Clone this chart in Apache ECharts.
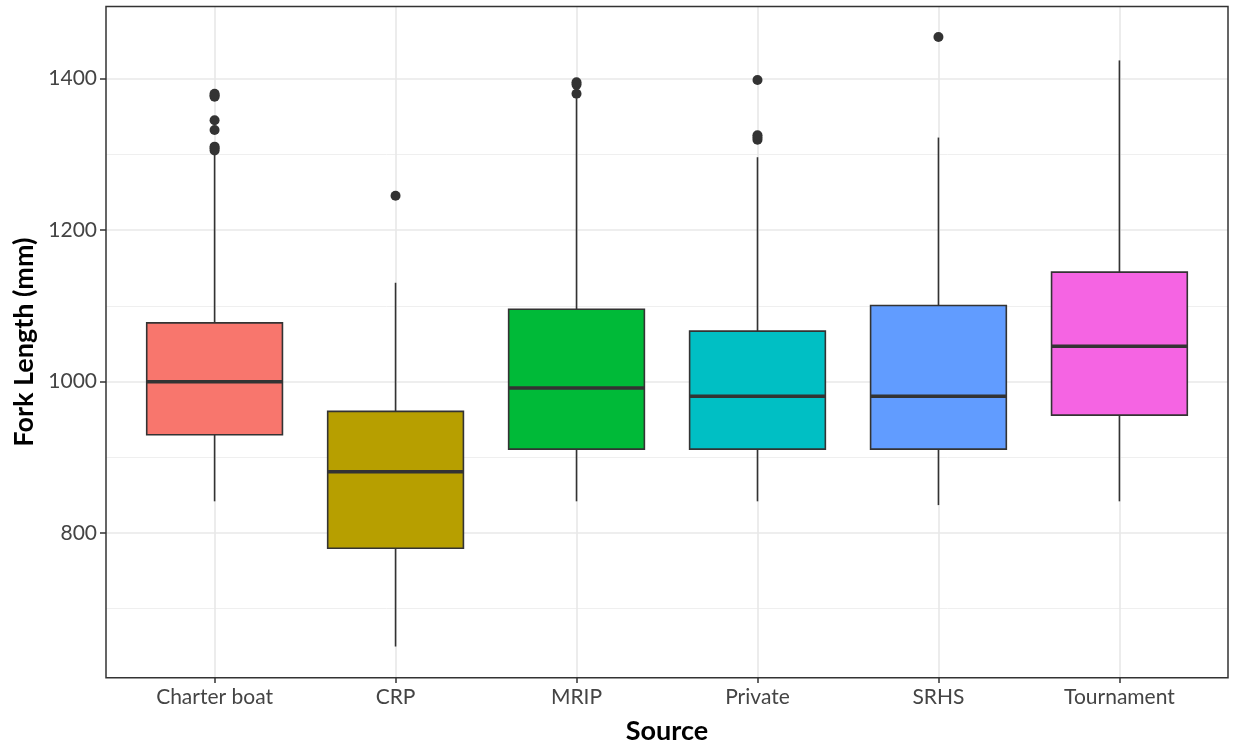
<!DOCTYPE html>
<html>
<head>
<meta charset="utf-8">
<script src="https://cdn.jsdelivr.net/npm/echarts@6/dist/echarts.min.js"></script>
<style>
  html, body { margin: 0; padding: 0; background: #ffffff; }
  #chart { width: 1235px; height: 750px; }
</style>
</head>
<body>
<div id="chart"></div>
<script>
// Fork length by source: box statistics and outliers
const categories = ['Charter boat', 'CRP', 'MRIP', 'Private', 'SRHS', 'Tournament'];
const whiskerLow  = [841, 649, 841, 841, 836, 841];
const q1          = [929, 779, 910, 910, 910, 955];
const median      = [999, 880, 991, 980, 980, 1046];
const q3          = [1077, 960, 1095, 1066, 1100, 1144];
const whiskerHigh = [1300, 1130, 1374, 1296, 1322, 1424];
const outliers = [
  [1305, 1308, 1310, 1332, 1345, 1376, 1378, 1380],
  [1245],
  [1380, 1392, 1395],
  [1319, 1322, 1325, 1398],
  [1455],
  []
];
const yTicks = [800, 1000, 1200, 1400];
const yMinorGrid = [700, 900, 1100, 1300];
const fills = ['#F8766D', '#B79F00', '#00BA38', '#00BFC4', '#619CFF', '#F564E3'];

// y range padded by 5% of the data span on each side
const allValues = [].concat(whiskerLow, whiskerHigh, ...outliers);
const dataMin = Math.min(...allValues);
const dataMax = Math.max(...allValues);
const pad = (dataMax - dataMin) * 0.05;
const yMin = dataMin - pad;
const yMax = dataMax + pad;

// panel geometry; discrete x positions are padded by 0.6 of a slot each side
const panel = { left: 106, right: 1228, top: 6.5, bottom: 677.7 };
const nCat = categories.length;
const slot = (panel.right - panel.left) / (nCat - 1 + 1.2);
const innerLeft = panel.left + 0.1 * slot;
const innerWidth = nCat * slot;

const boxData = categories.map((c, i) => [i, whiskerLow[i], q1[i], median[i], q3[i], whiskerHigh[i]]);
const outlierData = [];
outliers.forEach((arr, i) => arr.forEach(v => outlierData.push([i, v])));

const labelFont = { fontFamily: 'Lato', fontSize: 21, color: '#444444' };
const titleFont = { fontFamily: 'Lato', fontSize: 27, fontWeight: 'bold', color: '#000000' };
const dark = '#333333';

// panel grid: major lines at labelled ticks, thinner minor lines between, verticals at categories
const gridLines = []
  .concat(yMinorGrid.map(v => ({ yAxis: v, lineStyle: { color: '#EFEFEF', width: 1, type: 'solid' } })))
  .concat(yTicks.map(v => ({ yAxis: v, lineStyle: { color: '#E8E8E8', width: 1.6, type: 'solid' } })))
  .concat(categories.map((c, i) => ({ xAxis: i, lineStyle: { color: '#E8E8E8', width: 1.6, type: 'solid' } })));

const chart = echarts.init(document.getElementById('chart'), null, { renderer: 'canvas' });
chart.setOption({
  backgroundColor: '#ffffff',
  animation: false,
  grid: [
    {
      left: panel.left, top: panel.top,
      width: panel.right - panel.left, height: panel.bottom - panel.top,
      show: true, borderColor: dark, borderWidth: 1.5, backgroundColor: 'transparent', z: 5
    },
    {
      left: innerLeft, top: panel.top,
      width: innerWidth, height: panel.bottom - panel.top
    }
  ],
  xAxis: [
    {
      gridIndex: 0, type: 'value', min: -0.6, max: nCat - 1 + 0.6,
      axisLine: { show: false, onZero: false }, axisTick: { show: false }, axisLabel: { show: false },
      splitLine: { show: false }
    },
    {
      gridIndex: 1, type: 'category', data: categories, boundaryGap: true,
      axisLine: { show: false, onZero: false },
      axisTick: { show: true, alignWithLabel: true, length: 6, lineStyle: { color: dark, width: 1.5 } },
      axisLabel: Object.assign({ margin: 10 }, labelFont),
      splitLine: { show: false },
      name: 'Source', nameLocation: 'middle', nameGap: 41,
      nameTextStyle: titleFont
    }
  ],
  yAxis: [
    {
      gridIndex: 0, type: 'value', min: yMin, max: yMax, position: 'left',
      axisLine: { show: false, onZero: false },
      axisTick: { show: true, length: 6, lineStyle: { color: dark, width: 1.5 } },
      axisLabel: Object.assign({
        margin: 9, showMinLabel: false, showMaxLabel: false,
        formatter: v => (yTicks.indexOf(Math.round(v)) >= 0 ? String(Math.round(v)) : '')
      }, labelFont),
      splitLine: { show: false },
      name: 'Fork Length (mm)', nameLocation: 'middle', nameGap: 68,
      nameTextStyle: titleFont
    },
    {
      gridIndex: 1, type: 'value', min: yMin, max: yMax, show: false,
      axisLine: { onZero: false },
      splitLine: { show: false }
    }
  ],
  series: [
    {
      // panel grid lines, kept underneath the boxes
      type: 'line',
      xAxisIndex: 0, yAxisIndex: 0,
      z: 1,
      data: [],
      markLine: {
        z: 1,
        silent: true, symbol: 'none', animation: false,
        label: { show: false },
        data: gridLines
      }
    },
    {
      type: 'custom',
      xAxisIndex: 1, yAxisIndex: 1,
      z: 10,
      data: boxData,
      renderItem: function (params, api) {
        const x = api.value(0);
        const lo = api.coord([x, api.value(1)]);
        const b1 = api.coord([x, api.value(2)]);
        const md = api.coord([x, api.value(3)]);
        const b3 = api.coord([x, api.value(4)]);
        const hi = api.coord([x, api.value(5)]);
        const bw = api.size([1, 0])[0] * 0.75;
        const cx = lo[0];
        const line = { stroke: dark, lineWidth: 1.6 };
        return {
          type: 'group',
          children: [
            { type: 'line', shape: { x1: cx, y1: hi[1], x2: cx, y2: b3[1] }, style: line },
            { type: 'line', shape: { x1: cx, y1: b1[1], x2: cx, y2: lo[1] }, style: line },
            {
              type: 'rect',
              shape: { x: cx - bw / 2, y: b3[1], width: bw, height: b1[1] - b3[1] },
              style: { fill: fills[params.dataIndex], stroke: dark, lineWidth: 1.6 }
            },
            {
              type: 'line',
              shape: { x1: cx - bw / 2, y1: md[1], x2: cx + bw / 2, y2: md[1] },
              style: { stroke: dark, lineWidth: 3.5 }
            }
          ]
        };
      }
    },
    {
      type: 'scatter',
      xAxisIndex: 1, yAxisIndex: 1,
      z: 11,
      symbol: 'circle', symbolSize: 10,
      itemStyle: { color: dark, opacity: 1 },
      data: outlierData
    }
  ]
});
</script>
</body>
</html>
